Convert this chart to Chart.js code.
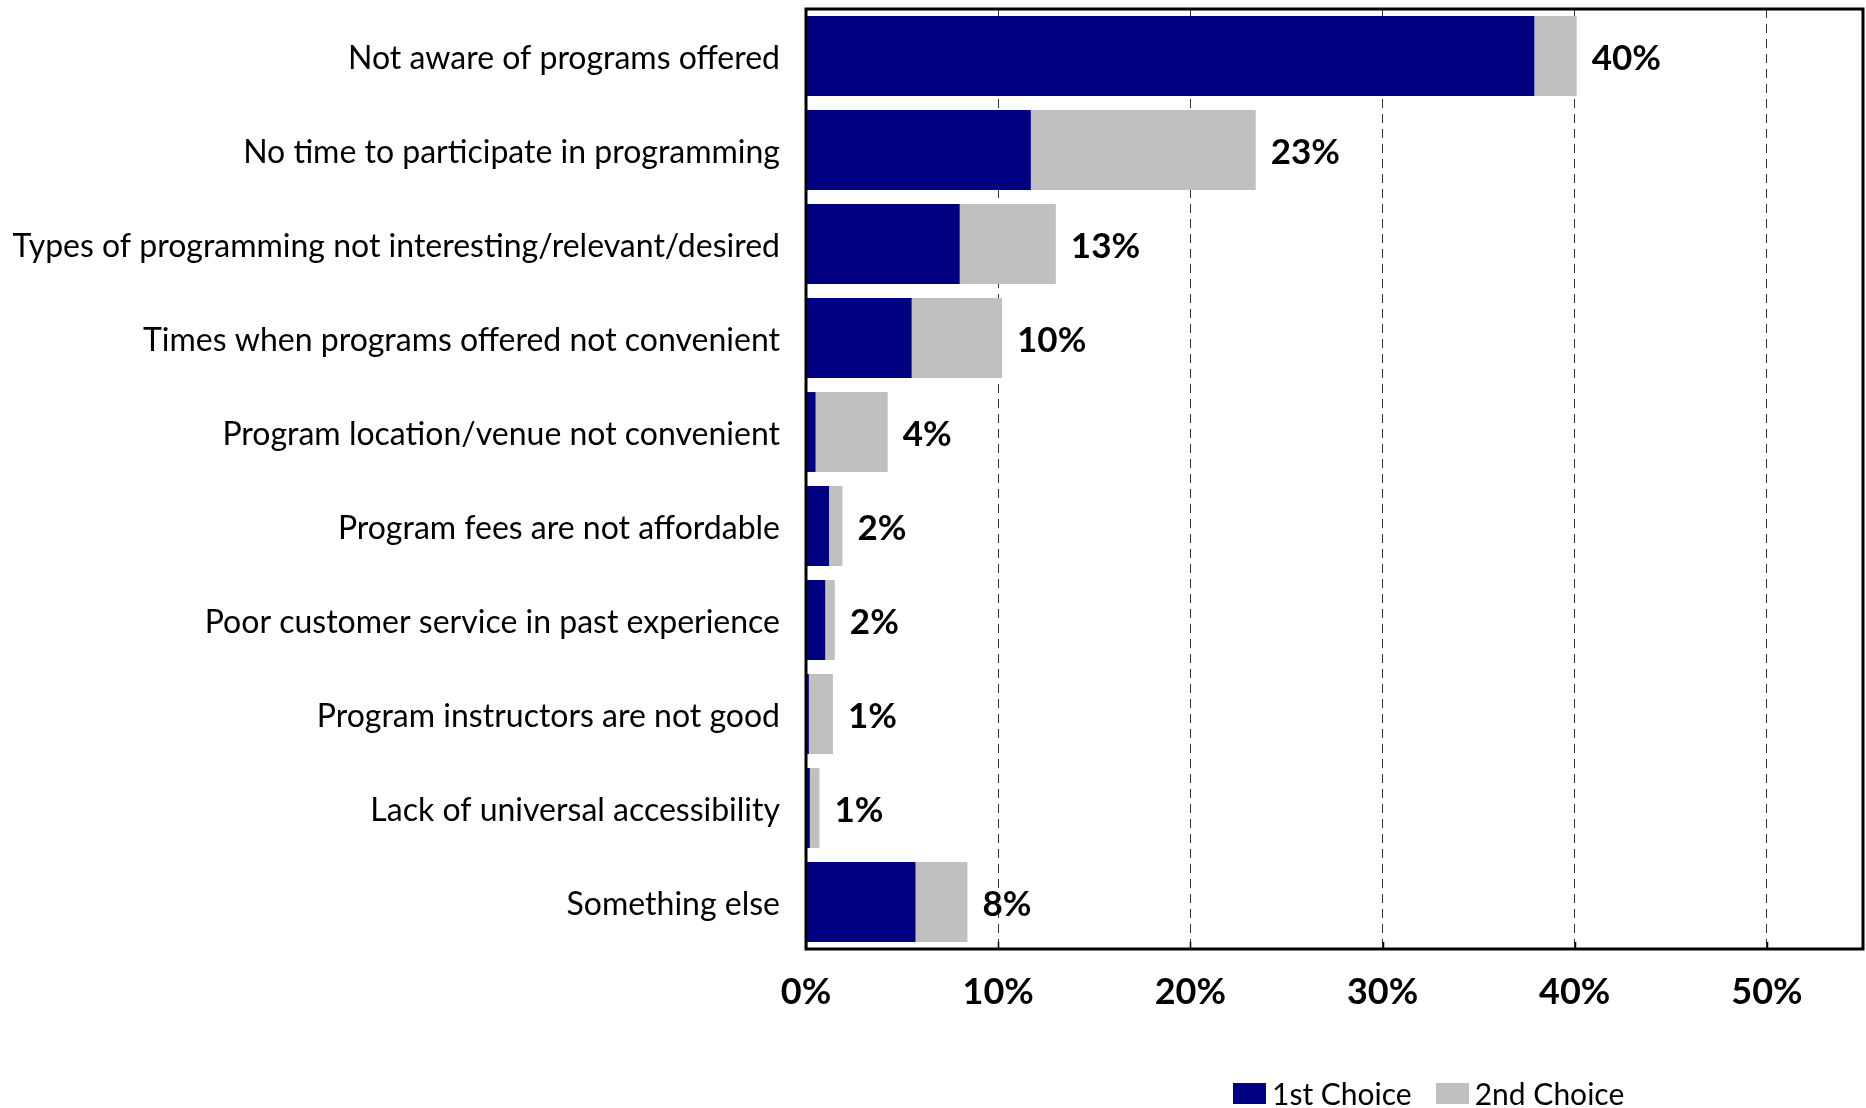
<!DOCTYPE html>
<html>
<head>
<meta charset="utf-8">
<script src="https://cdn.jsdelivr.net/npm/chart.js@4.4.0/dist/chart.umd.min.js"></script>
<style>
  html, body { margin: 0; padding: 0; background: #fff; }
  #wrap { position: relative; width: 1866px; height: 1108px; }
  #legend { position: absolute; top: 1075px; left: 1233px; font-family: Lato, "Open Sans", sans-serif; font-size: 30px; color: #000; display: flex; align-items: center; white-space: nowrap; }
  #legend .sw { display: inline-block; width: 33px; height: 21px; margin-right: 6px; }
  #legend .item { display: flex; align-items: center; margin-right: 24px; }
</style>
</head>
<body>
<div id="wrap">
  <canvas id="c" width="1866" height="1108"></canvas>
  <div id="legend"></div>
</div>
<script>
const categories = [
  "Not aware of programs offered",
  "No time to participate in programming",
  "Types of programming not interesting/relevant/desired",
  "Times when programs offered not convenient",
  "Program location/venue not convenient",
  "Program fees are not affordable",
  "Poor customer service in past experience",
  "Program instructors are not good",
  "Lack of universal accessibility",
  "Something else"
];
const firstChoice  = [37.9, 11.7, 8.0, 5.5, 0.5, 1.2, 1.0, 0.15, 0.2, 5.7];
const secondChoice = [2.2, 11.7, 5.0, 4.7, 3.75, 0.7, 0.5, 1.25, 0.5, 2.7];
const totalLabels  = ["40%", "23%", "13%", "10%", "4%", "2%", "2%", "1%", "1%", "8%"];
const seriesNames  = ["1st Choice", "2nd Choice"];
const seriesColors = ["#000080", "#C0C0C0"];
const xTicks = [0, 10, 20, 30, 40, 50];

const FONT = 'Lato, "Open Sans", sans-serif';

const frame = {
  id: 'frame',
  afterDatasetsDraw(chart) {
    const ctx = chart.ctx;
    const meta = chart.getDatasetMeta(1);
    ctx.save();
    ctx.font = 'bold 35px ' + FONT;
    ctx.fillStyle = '#000';
    ctx.textAlign = 'left';
    ctx.textBaseline = 'middle';
    meta.data.forEach((el, i) => {
      ctx.fillText(totalLabels[i], el.x + 15, el.y + 3);
    });
    ctx.restore();
  },
  afterDraw(chart) {
    const a = chart.chartArea, ctx = chart.ctx;
    const xs = chart.scales.x;
    ctx.save();
    ctx.strokeStyle = '#000';
    ctx.lineWidth = 1.5;
    xTicks.forEach(v => {
      const px = Math.round(xs.getPixelForValue(v)) + 0.5;
      ctx.beginPath();
      ctx.moveTo(px, a.bottom);
      ctx.lineTo(px, a.bottom - 7);
      ctx.stroke();
    });
    ctx.lineWidth = 3;
    ctx.strokeRect(a.left, a.top, a.right - a.left, a.bottom - a.top);
    ctx.restore();
  }
};

new Chart(document.getElementById('c'), {
  type: 'bar',
  data: {
    labels: categories,
    datasets: [
      { label: seriesNames[0], data: firstChoice, backgroundColor: seriesColors[0], barPercentage: 0.85, categoryPercentage: 1.0 },
      { label: seriesNames[1], data: secondChoice, backgroundColor: seriesColors[1], barPercentage: 0.85, categoryPercentage: 1.0 }
    ]
  },
  options: {
    indexAxis: 'y',
    responsive: false,
    animation: false,
    layout: { padding: { top: 9, right: 3, bottom: 79, left: 0 } },
    plugins: { legend: { display: false }, tooltip: { enabled: false } },
    scales: {
      x: {
        stacked: true,
        min: 0, max: 55,
        afterBuildTicks(scale) { scale.ticks = xTicks.map(v => ({ value: v })); },
        afterFit(scale) { scale.height = 80; scale.paddingLeft = 0; scale.paddingRight = 0; },
        ticks: {
          padding: 22,
          color: '#000',
          font: { family: FONT, size: 36, weight: 'bold' },
          callback: v => v + '%'
        },
        grid: {
          drawTicks: false,
          color: ctx => ctx.tick && ctx.tick.value === 0 ? 'rgba(0,0,0,0)' : '#333333',
          lineWidth: 1
        },
        border: { display: false, dash: [9, 6] }
      },
      y: {
        stacked: true,
        afterFit(scale) { scale.width = 806; scale.paddingTop = 0; scale.paddingBottom = 0; },
        ticks: {
          padding: 26,
          labelOffset: 3,
          color: '#000',
          font: { family: FONT, size: 32 }
        },
        grid: { display: false, drawTicks: false },
        border: { display: false }
      }
    }
  },
  plugins: [frame]
});

const lg = document.getElementById('legend');
seriesNames.forEach((n, i) => {
  const it = document.createElement('div');
  it.className = 'item';
  const sw = document.createElement('span');
  sw.className = 'sw';
  sw.style.background = seriesColors[i];
  it.appendChild(sw);
  it.appendChild(document.createTextNode(n));
  lg.appendChild(it);
});
</script>
</body>
</html>
